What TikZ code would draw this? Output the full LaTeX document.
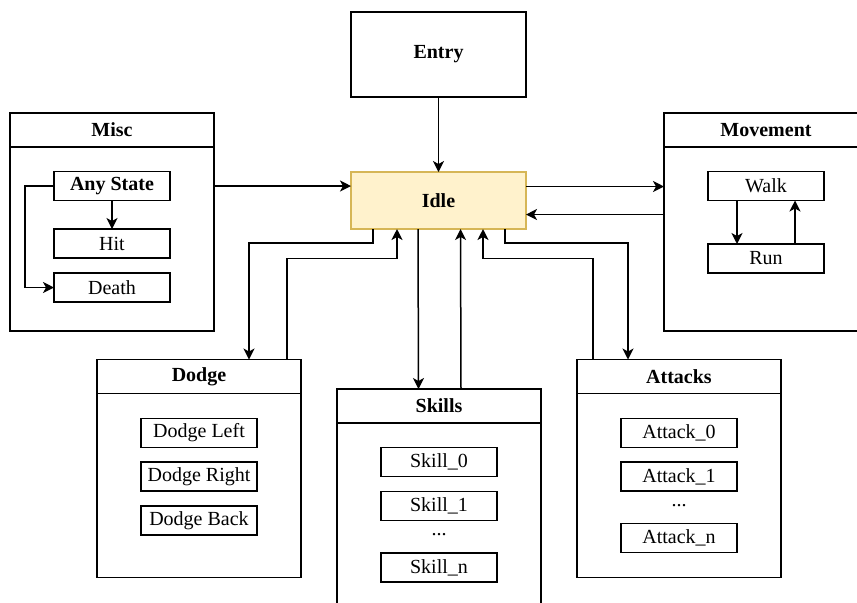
\documentclass[tikz,border=0pt]{standalone}
\usepackage{fontspec}
\setmainfont{Liberation Serif}
\usetikzlibrary{arrows.meta}
\usetikzlibrary{positioning}

\definecolor{idlefill}{HTML}{FFF2CC}
\definecolor{idledraw}{HTML}{D6B656}

\tikzset{
  txt/.style={font=\fontsize{10}{12}\selectfont},
  btxt/.style={font=\fontsize{10}{12}\selectfont\bfseries},
  state/.style={draw, txt, line width=0.75pt, outer sep=0pt, inner sep=0pt, minimum width=58pt, minimum height=14.5pt},
  group/.style={draw, btxt, line width=0.75pt, outer sep=0pt, inner sep=0pt, minimum width=102pt, minimum height=17pt},
  groupbody/.style={draw, line width=0.75pt, outer sep=0pt, inner sep=0pt, minimum width=102pt, minimum height=92pt},
  arr/.style={-{Stealth[length=5.5pt,width=5.5pt,inset=1.5pt]}, line width=0.75pt},
}

\begin{document}
\begin{tikzpicture}[x=0.5pt, y=-0.5pt]
 \useasboundingbox (0,0) rectangle (857,602);
 \clip (0,0) rectangle (857,602);
 \fill[white] (0,0) rectangle (857,602);

 \node[draw, btxt, line width=0.75pt, outer sep=0pt, minimum width=87.5pt, minimum height=42.5pt] (entry) at (438.5,54.5) {Entry};
 \node[draw=idledraw, fill=idlefill, btxt, line width=0.75pt, outer sep=0pt, minimum width=87.5pt, minimum height=28.5pt] (idle) at (438.5,200.5) {Idle};

 \node[group] (misc) at (112,130) {Misc};
 \node[groupbody, below=0pt of misc] (miscbody) {};
 \node[state, btxt] (anystate) at (112,186) {Any State};
 \node[state] (hit) at (112,243.5) {Hit};
 \node[state] (death) at (112,287.5) {Death};

 \node[group] (movement) at (766,130) {Movement};
 \node[groupbody, below=0pt of movement] (movementbody) {};
 \node[state] (walk) at (766,186) {Walk};
 \node[state] (run) at (766,258.5) {Run};

 \node[group] (dodge) at (199,376.5) {Dodge};
 \node[groupbody, below=0pt of dodge] (dodgebody) {};
 \node[state] (dodgeleft) at (199,433) {Dodge Left};
 \node[state] (dodgeright) at (199,476.5) {Dodge Right};
 \node[state] (dodgeback) at (199,520.5) {Dodge Back};

 \node[group] (skills) at (439,406) {Skills};
 \node[groupbody, below=0pt of skills] (skillsbody) {};
 \node[state] (skill0) at (439,462) {Skill\_0};
 \node[state] (skill1) at (439,506) {Skill\_1};
 \node[txt] (skilldots) at (439,535) {...};
 \node[state] (skilln) at (439,567.5) {Skill\_n};

 \node[group] (attacks) at (679,376.5) {Attacks};
 \node[groupbody, below=0pt of attacks] (attacksbody) {};
 \node[state] (attack0) at (679,433) {Attack\_0};
 \node[state] (attack1) at (679,476.5) {Attack\_1};
 \node[txt] (attackdots) at (679,506) {...};
 \node[state] (attackn) at (679,538) {Attack\_n};

 \draw[arr] (entry) -- (idle);
 \draw[arr] (anystate -| miscbody.east) -- (anystate -| idle.west);
 \draw[arr] ([yshift=7pt]idle.east) -- ([yshift=7pt]idle.east -| movementbody.west);
 \draw[arr] ([yshift=-7pt]idle.east -| movementbody.west) -- ([yshift=-7pt]idle.east);

 \draw[arr] (anystate) -- (hit);
 \draw[arr] (anystate.west) -- ++(-29,0) |- (death.west);
 \draw[arr] ([xshift=-14.5pt]walk.south) -- ([xshift=-14.5pt]run.north);
 \draw[arr] ([xshift=14.5pt]run.north) -- ([xshift=14.5pt]walk.south);

 \draw[arr] ([xshift=-32.75pt]idle.south) -- ++(0,14) -| ([xshift=25pt]dodge.north);
 \draw[arr] ([xshift=44pt]dodge.north) -- ++(0,-101) -| ([xshift=-20.75pt]idle.south);
 \draw[arr] ([xshift=-10.25pt]idle.south) -- ([xshift=-10.25pt]skills.north);
 \draw[arr] ([xshift=11pt]skills.north) -- ([xshift=11pt]idle.south);
 \draw[arr] ([xshift=33.25pt]idle.south) -- ++(0,14) -| ([xshift=-25.5pt]attacks.north);
 \draw[arr] ([xshift=-43pt]attacks.north) -- ++(0,-101) -| ([xshift=22.25pt]idle.south);

\end{tikzpicture}
\end{document}
